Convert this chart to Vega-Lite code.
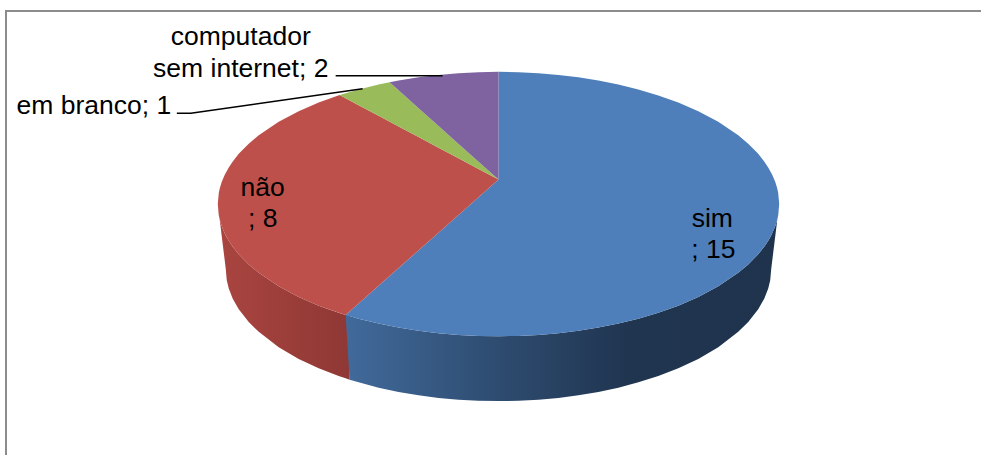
{"$schema":"https://vega.github.io/schema/vega-lite/v6.json","width":982,"height":456,"autosize":{"type":"fit","contains":"padding"},"padding":0,"background":"white","view":{"stroke":null},
"datasets":{
"topo":[
{"fatia":"sim","valor":15,"x":346,"y":315.6,"y2":315.6},{"fatia":"sim","valor":15,"x":359,"y":304.1,"y2":319.4},{"fatia":"sim","valor":15,"x":379,"y":286.4,"y2":324.3},{"fatia":"sim","valor":15,"x":399,"y":268.6,"y2":328.3},{"fatia":"sim","valor":15,"x":419,"y":250.9,"y2":331.5},{"fatia":"sim","valor":15,"x":439,"y":233.2,"y2":333.9},{"fatia":"sim","valor":15,"x":459,"y":215.4,"y2":335.7},{"fatia":"sim","valor":15,"x":479,"y":197.7,"y2":336.7},{"fatia":"sim","valor":15,"x":499,"y":180,"y2":337},
{"fatia":"sim","valor":15,"x":499,"y":72,"y2":337},{"fatia":"sim","valor":15,"x":519,"y":72.3,"y2":336.7},{"fatia":"sim","valor":15,"x":539,"y":73.4,"y2":335.7},{"fatia":"sim","valor":15,"x":559,"y":75.1,"y2":333.9},{"fatia":"sim","valor":15,"x":579,"y":77.5,"y2":331.5},{"fatia":"sim","valor":15,"x":599,"y":80.7,"y2":328.3},{"fatia":"sim","valor":15,"x":619,"y":84.7,"y2":324.3},{"fatia":"sim","valor":15,"x":639,"y":89.6,"y2":319.4},{"fatia":"sim","valor":15,"x":659,"y":95.6,"y2":313.4},{"fatia":"sim","valor":15,"x":679,"y":102.8,"y2":306.3},{"fatia":"sim","valor":15,"x":699,"y":111.4,"y2":297.6},{"fatia":"sim","valor":15,"x":719,"y":122.1,"y2":286.9},{"fatia":"sim","valor":15,"x":739,"y":135.6,"y2":273.4},{"fatia":"sim","valor":15,"x":749,"y":144,"y2":265},{"fatia":"sim","valor":15,"x":759,"y":154.2,"y2":254.8},{"fatia":"sim","valor":15,"x":765,"y":161.8,"y2":247.2},{"fatia":"sim","valor":15,"x":769,"y":167.8,"y2":241.2},{"fatia":"sim","valor":15,"x":773,"y":175.1,"y2":233.9},{"fatia":"sim","valor":15,"x":776,"y":182.2,"y2":226.8},{"fatia":"sim","valor":15,"x":778,"y":188.7,"y2":220.3},{"fatia":"sim","valor":15,"x":779,"y":193.3,"y2":215.7},{"fatia":"sim","valor":15,"x":780,"y":204.5,"y2":204.5},
{"fatia":"não","valor":8,"x":218,"y":204.5,"y2":204.5},{"fatia":"não","valor":8,"x":219,"y":193.3,"y2":215.7},{"fatia":"não","valor":8,"x":220,"y":188.7,"y2":220.3},{"fatia":"não","valor":8,"x":222,"y":182.2,"y2":226.8},{"fatia":"não","valor":8,"x":225,"y":175.1,"y2":233.9},{"fatia":"não","valor":8,"x":229,"y":167.8,"y2":241.2},{"fatia":"não","valor":8,"x":233,"y":161.8,"y2":247.2},{"fatia":"não","valor":8,"x":239,"y":154.2,"y2":254.8},{"fatia":"não","valor":8,"x":249,"y":144,"y2":265},{"fatia":"não","valor":8,"x":259,"y":135.6,"y2":273.4},{"fatia":"não","valor":8,"x":279,"y":122.1,"y2":286.9},{"fatia":"não","valor":8,"x":299,"y":111.4,"y2":297.6},{"fatia":"não","valor":8,"x":319,"y":102.8,"y2":306.3},{"fatia":"não","valor":8,"x":340,"y":95.3,"y2":313.8},{"fatia":"não","valor":8,"x":346,"y":98.5,"y2":315.6},{"fatia":"não","valor":8,"x":359,"y":105.4,"y2":304.1},{"fatia":"não","valor":8,"x":379,"y":116.1,"y2":286.4},{"fatia":"não","valor":8,"x":399,"y":126.7,"y2":268.6},{"fatia":"não","valor":8,"x":419,"y":137.4,"y2":250.9},{"fatia":"não","valor":8,"x":439,"y":148,"y2":233.2},{"fatia":"não","valor":8,"x":459,"y":158.7,"y2":215.4},{"fatia":"não","valor":8,"x":479,"y":169.3,"y2":197.7},{"fatia":"não","valor":8,"x":499,"y":180,"y2":180},
{"fatia":"em branco","valor":1,"x":340,"y":95.3,"y2":95.3},{"fatia":"em branco","valor":1,"x":359,"y":89.6,"y2":105.4},{"fatia":"em branco","valor":1,"x":379,"y":84.7,"y2":116.1},{"fatia":"em branco","valor":1,"x":390,"y":82.4,"y2":121.9},{"fatia":"em branco","valor":1,"x":399,"y":90.5,"y2":126.7},{"fatia":"em branco","valor":1,"x":419,"y":108.4,"y2":137.4},{"fatia":"em branco","valor":1,"x":439,"y":126.3,"y2":148},{"fatia":"em branco","valor":1,"x":459,"y":144.2,"y2":158.7},{"fatia":"em branco","valor":1,"x":479,"y":162.1,"y2":169.3},{"fatia":"em branco","valor":1,"x":499,"y":180,"y2":180},
{"fatia":"computador sem internet","valor":2,"x":390,"y":82.4,"y2":82.4},{"fatia":"computador sem internet","valor":2,"x":399,"y":80.7,"y2":90.5},{"fatia":"computador sem internet","valor":2,"x":419,"y":77.5,"y2":108.4},{"fatia":"computador sem internet","valor":2,"x":439,"y":75.1,"y2":126.3},{"fatia":"computador sem internet","valor":2,"x":459,"y":73.4,"y2":144.2},{"fatia":"computador sem internet","valor":2,"x":479,"y":72.3,"y2":162.1},{"fatia":"computador sem internet","valor":2,"x":499,"y":72,"y2":180}
],
"ladoNao":[
{"x":218,"y":204.5,"y2":204.5},{"x":220,"y":220.3,"y2":220.75},{"x":222,"y":226.8,"y2":237},{"x":225,"y":233.9,"y2":261.4},{"x":226,"y":235.9,"y2":269.5},{"x":227,"y":237.8,"y2":280.8},{"x":229,"y":241.2,"y2":289.1},{"x":233,"y":247.2,"y2":299.3},{"x":239,"y":254.8,"y2":309.9},{"x":249,"y":265,"y2":322.7},{"x":259,"y":273.4,"y2":332.6},{"x":279,"y":286.9,"y2":348},{"x":299,"y":297.6,"y2":359.7},{"x":319,"y":306.3,"y2":369.1},{"x":339,"y":313.4,"y2":376.9},{"x":346,"y":315.6,"y2":379.2},{"x":350,"y":316.8,"y2":380.5}
],
"ladoSim":[
{"x":346,"y":315.6,"y2":315.6},{"x":350,"y":316.8,"y2":380.5},{"x":359,"y":319.4,"y2":383.2},{"x":379,"y":324.3,"y2":388.5},{"x":399,"y":328.3,"y2":392.8},{"x":419,"y":331.5,"y2":396.2},{"x":439,"y":333.9,"y2":398.8},{"x":459,"y":335.7,"y2":400.6},{"x":479,"y":336.7,"y2":401.6},{"x":499,"y":337,"y2":402},{"x":519,"y":336.7,"y2":401.6},{"x":539,"y":335.7,"y2":400.6},{"x":559,"y":333.9,"y2":398.8},{"x":579,"y":331.5,"y2":396.2},{"x":599,"y":328.3,"y2":392.8},{"x":619,"y":324.3,"y2":388.5},{"x":639,"y":319.4,"y2":383.2},{"x":659,"y":313.4,"y2":376.9},{"x":679,"y":306.3,"y2":369.1},{"x":699,"y":297.6,"y2":359.7},{"x":719,"y":286.9,"y2":348},{"x":739,"y":273.4,"y2":332.6},{"x":749,"y":265,"y2":322.7},{"x":759,"y":254.8,"y2":309.9},{"x":765,"y":247.2,"y2":299.3},{"x":769,"y":241.2,"y2":289.1},{"x":771,"y":237.8,"y2":280.8},{"x":772,"y":235.9,"y2":269.5},{"x":776,"y":226.8,"y2":237},{"x":778,"y":220.3,"y2":220.75},{"x":780,"y":204.5,"y2":204.5}
],
"moldura":[{"x":6,"x2":982,"y":11,"y2":11},{"x":6,"x2":6,"y":10,"y2":456}],
"guias":[
{"guia":"computador","x":336,"y":76},{"guia":"computador","x":443,"y":76},
{"guia":"branco","x":177,"y":113.5},{"guia":"branco","x":191,"y":113.5},{"guia":"branco","x":363,"y":89}
],
"rotulos":[
{"texto":"computador","x":241,"y":45},{"texto":"sem internet; 2","x":241,"y":77},{"texto":"em branco; 1","x":94,"y":114},{"texto":"não","x":263,"y":196},{"texto":"; 8","x":263,"y":227},{"texto":"sim","x":713,"y":227},{"texto":"; 15","x":714,"y":259}
]},
"encoding":{
"x":{"field":"x","type":"quantitative","scale":{"domain":[0,982],"nice":false,"zero":false},"axis":null},
"y":{"field":"y","type":"quantitative","scale":{"domain":[456,0],"nice":false,"zero":false},"axis":null}
},
"layer":[
{"data":{"name":"ladoNao"},"mark":{"type":"area","color":{"gradient":"linear","x1":0,"y1":0,"x2":1,"y2":0,"stops":[{"offset":0,"color":"#AA4541"},{"offset":0.5,"color":"#9C3E3A"},{"offset":1,"color":"#8F3835"}]}},"encoding":{"y2":{"field":"y2"}}},
{"data":{"name":"ladoSim"},"mark":{"type":"area","color":{"gradient":"linear","x1":0,"y1":0,"x2":1,"y2":0,"stops":[{"offset":0,"color":"#416A9B"},{"offset":0.35,"color":"#2E4C70"},{"offset":0.65,"color":"#203550"},{"offset":1,"color":"#1F334D"}]}},"encoding":{"y2":{"field":"y2"}}},
{"data":{"name":"topo"},"mark":{"type":"area"},"encoding":{"y2":{"field":"y2"},"color":{"field":"fatia","type":"nominal","legend":null,"scale":{"domain":["sim","não","em branco","computador sem internet"],"range":["#4F7FBA","#BE504C","#9ABB59","#7F63A1"]}}}},
{"data":{"name":"moldura"},"mark":{"type":"rule","color":"#8C8C8C","strokeWidth":2},"encoding":{"x2":{"field":"x2"},"y2":{"field":"y2"}}},
{"data":{"name":"guias"},"mark":{"type":"line","color":"#000000","strokeWidth":1.5},"encoding":{"detail":{"field":"guia"}}},
{"data":{"name":"rotulos"},"mark":{"type":"text","font":"Liberation Sans","fontSize":26.5,"align":"center","baseline":"alphabetic","color":"#000000"},"encoding":{"text":{"field":"texto"}}}
]}
